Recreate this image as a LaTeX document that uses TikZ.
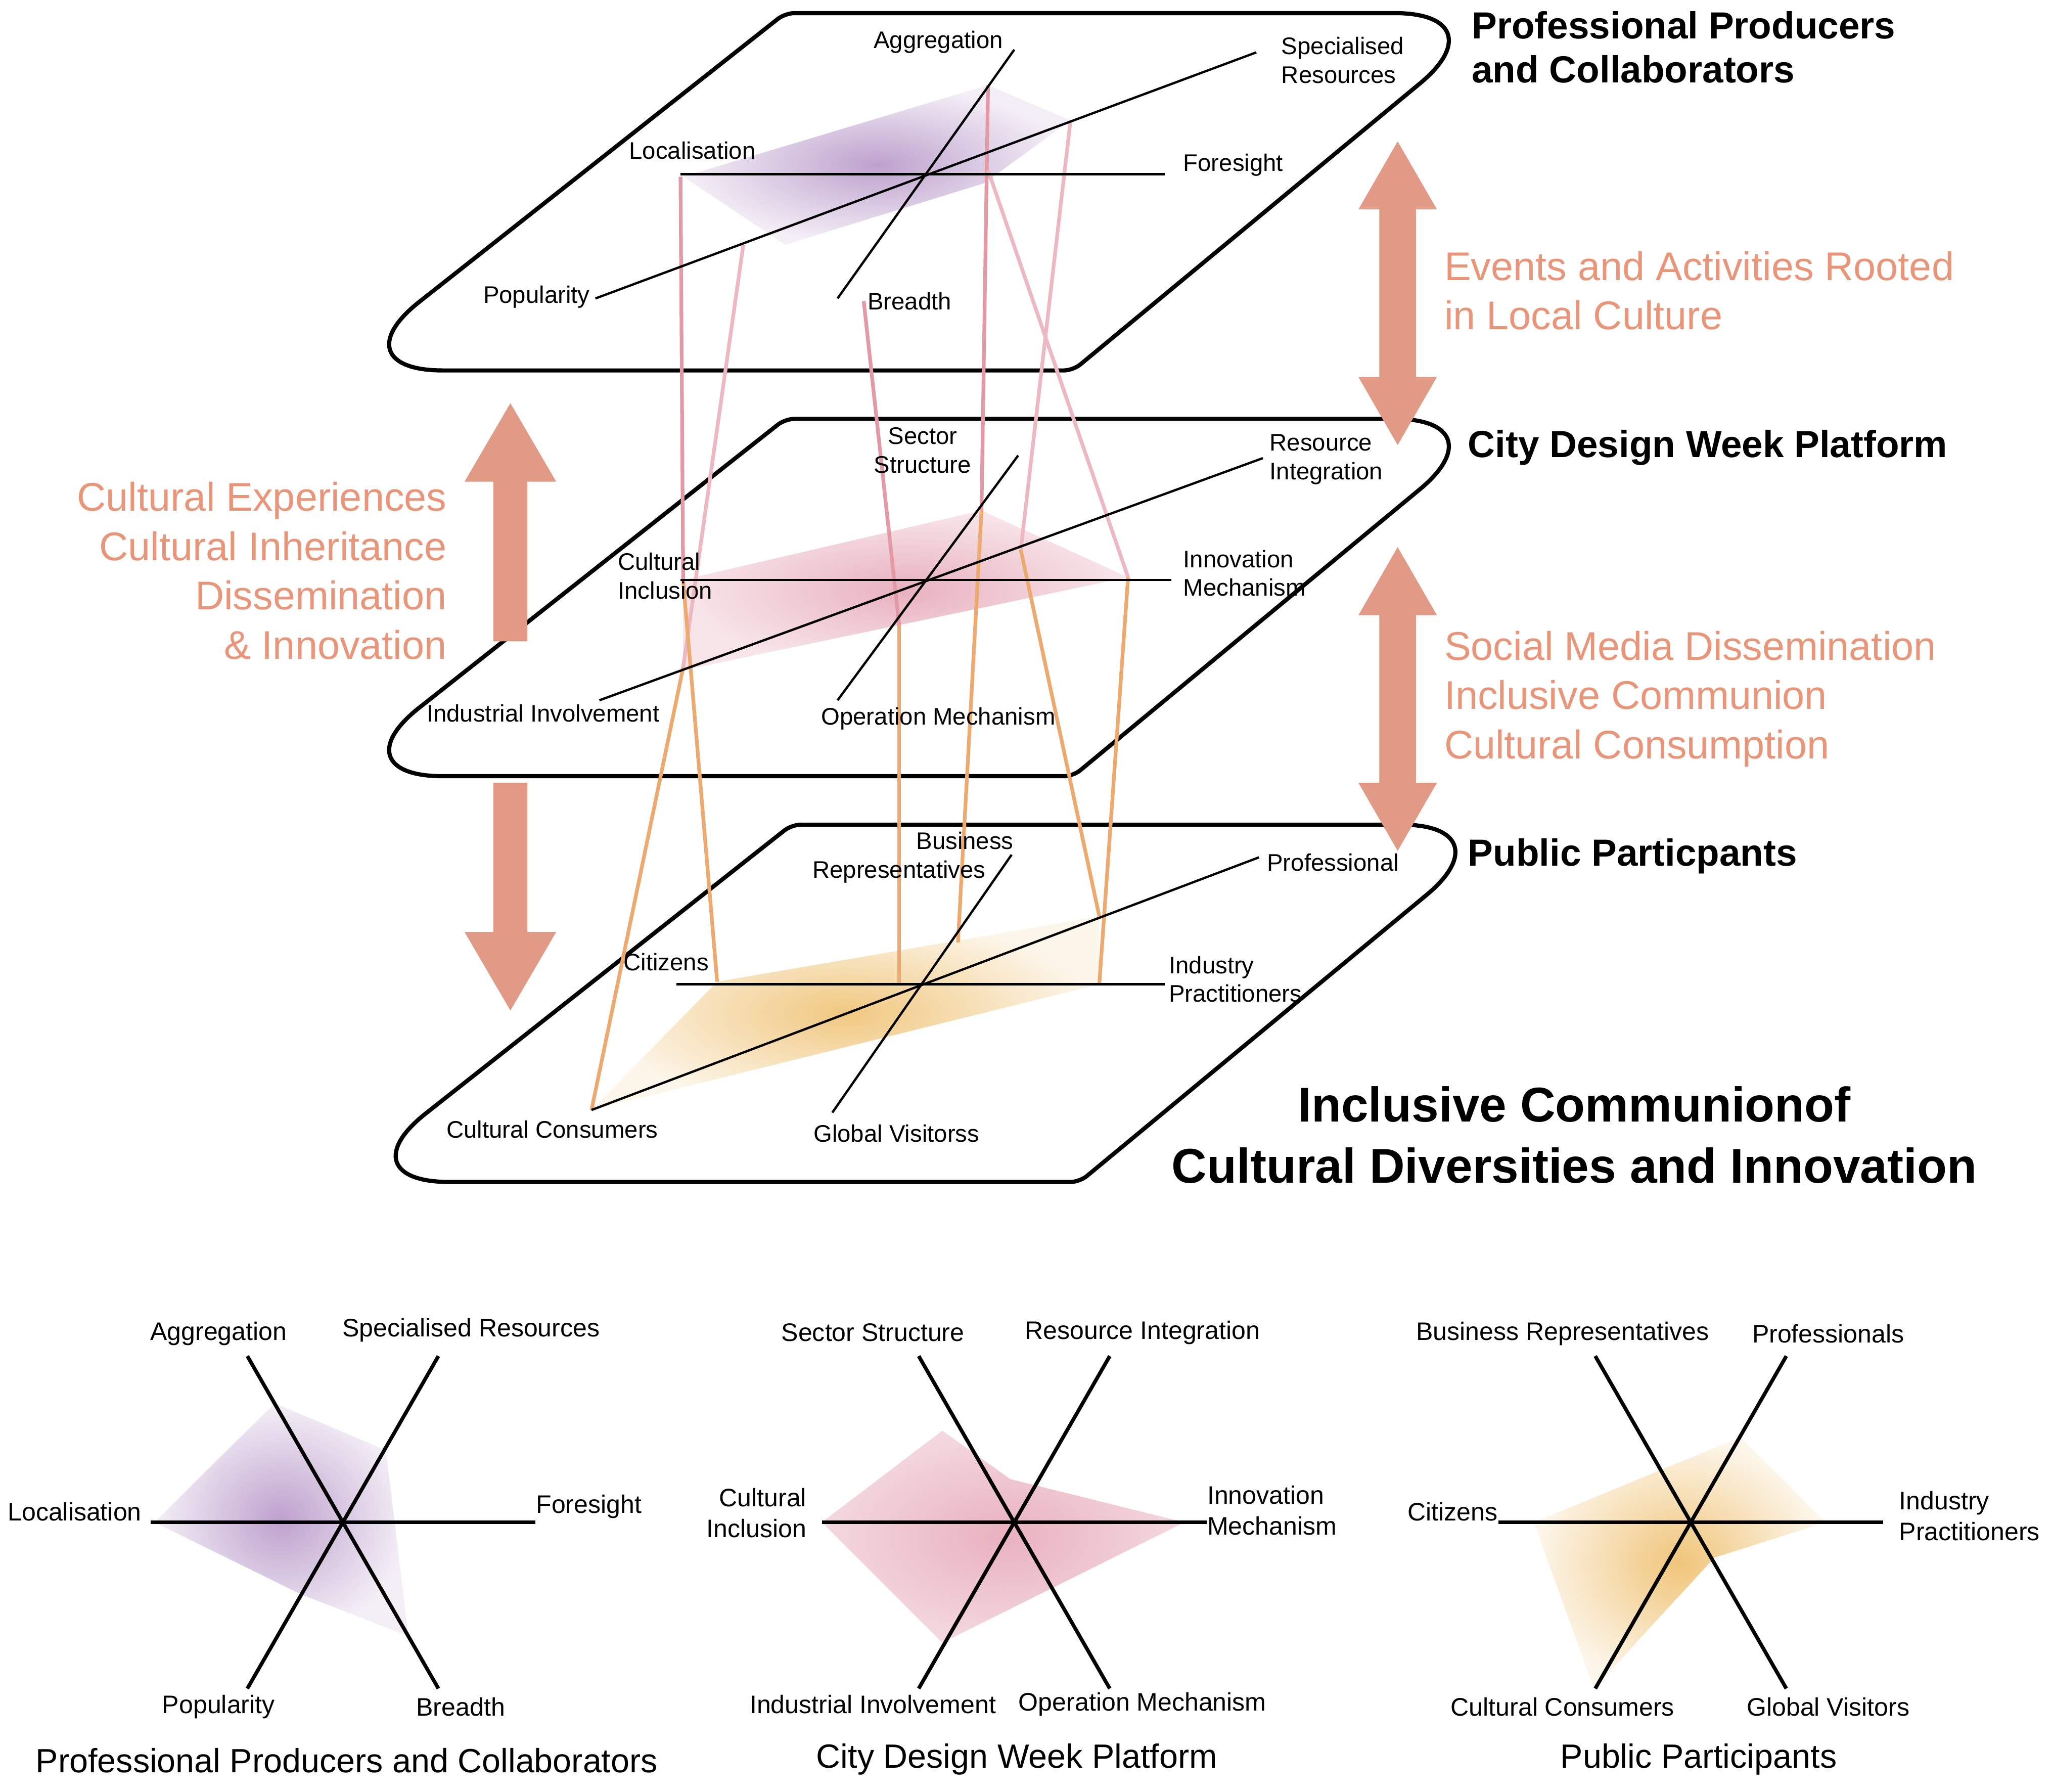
\documentclass[tikz,border=0pt]{standalone}
\usepackage{fontspec}
\setmainfont{Liberation Sans}
\begin{document}
\begin{tikzpicture}[x=0.01cm,y=-0.01cm,
 lbl/.style={font=\fontsize{5.2}{6.2}\selectfont,inner sep=1pt,align=left},
 ttl/.style={font=\bfseries\fontsize{8.2}{9.5}\selectfont,inner sep=0pt,align=left,anchor=west},
 otxt/.style={font=\fontsize{8.7}{10.7}\selectfont,text=ora,inner sep=0pt},
 btl/.style={font=\fontsize{7.3}{8}\selectfont,inner sep=0pt},
 bl/.style={font=\fontsize{5.5}{6.7}\selectfont,inner sep=1pt,align=left},
 ax/.style={line width=0.5pt},
 bax/.style={line width=0.8pt},
 plane/.style={line width=0.9pt},
 pk/.style={draw=pink1,line width=0.8pt},
 pkl/.style={draw=pink1!70,line width=0.8pt},
 og/.style={draw=org1,line width=0.8pt},
 barrow/.style={fill=arr,draw=none}]
\definecolor{ora}{HTML}{E8957A}
\definecolor{arr}{HTML}{E09A85}
\definecolor{pink1}{HTML}{E49AA6}
\definecolor{org1}{HTML}{EDAA70}
\definecolor{pur}{HTML}{B797C8}
\definecolor{pnk}{HTML}{E6A9B8}
\definecolor{yel}{HTML}{F0C57A}
\useasboundingbox (0,0) rectangle (1568,1369);
% planes
\foreach \dx/\dy in {0/0,0/310,5/620}{
 \draw[plane,shift={(\dx,\dy)}] (850,10) [rounded corners=2pt] -- (600,10) [rounded corners=24pt] -- (254,283) [rounded corners=2pt] -- (820,283) [rounded corners=24pt] -- (1150,10) [rounded corners=2pt] -- cycle;
}
% shaded polygons
\shade[inner color=pur!90,outer color=pur!15] (522,135) -- (755,65) -- (818,92) -- (752,140) -- (600,187) -- cycle;
\shade[inner color=pnk!90,outer color=pnk!30] (522,443) -- (750,390) -- (862,441) -- (522,512) -- cycle;
\shade[inner color=yel!95,outer color=yel!15] (548,750) -- (840,700) -- (840,752) -- (452,848) -- cycle;
% connecting lines
\coordinate (t1) at (520,135); \coordinate (t2) at (568,187); \coordinate (t3) at (660,230);
\coordinate (t4) at (755,65); \coordinate (t5) at (818,92); \coordinate (t6) at (755,130);
\coordinate (m1) at (522,443); \coordinate (m2) at (522,510); \coordinate (m3) at (687,477);
\coordinate (m4) at (750,390); \coordinate (m5) at (780,420); \coordinate (m6) at (862,441);
\coordinate (b1) at (548,750); \coordinate (b2) at (452,848); \coordinate (b3) at (687,752);
\coordinate (b4) at (732,720); \coordinate (b5) at (840,700); \coordinate (b6) at (840,752);
\draw[pk] (t1)--(m1); \draw[pkl] (t2)--(m2); \draw[pk] (t3)--(m3);
\draw[pk] (t4)--(m4); \draw[pkl] (t5)--(m5); \draw[pkl] (t6)--(m6);
\draw[og] (m1)--(b1); \draw[og] (m2)--(b2); \draw[og] (m3)--(b3);
\draw[og] (m4)--(b4); \draw[og] (m5)--(b5); \draw[og] (m6)--(b6);
% axes
\draw[ax] (520,133)--(890,133); \draw[ax] (455,228)--(960,40); \draw[ax] (640,228)--(775,38);
\draw[ax] (520,443)--(895,443); \draw[ax] (458,535)--(965,350); \draw[ax] (640,535)--(778,348);
\draw[ax] (517,752)--(890,752); \draw[ax] (452,848)--(962,655); \draw[ax] (636,850)--(773,653);
% labels
\node[lbl] (a1) at (717,32) {Aggregation};
\node[lbl,anchor=west] (a2) at (975,46) {Specialised\\Resources};
\node[lbl] (a3) at (529,115) {Localisation};
\node[lbl,anchor=west] (a4) at (900,126) {Foresight};
\node[lbl] (a5) at (410,227) {Popularity};
\node[lbl] (a6) at (695,230) {Breadth};
\node[lbl,align=center] (b1l) at (705,344) {Sector\\Structure};
\node[lbl,anchor=west] (b2l) at (966,351) {Resource\\Integration};
\node[lbl,anchor=west] (b3l) at (468,440) {Cultural\\Inclusion};
\node[lbl,anchor=west] (b4l) at (900,438) {Innovation\\Mechanism};
\node[lbl] (b5l) at (415,545) {Industrial Involvement};
\node[lbl] (b6l) at (717,549) {Operation Mechanism};
\node[lbl,align=center] (c1l) at (687,655) {\hspace*{5.5em}Business\\Representatives};
\node[lbl,anchor=west] (c2l) at (964,659) {Professional};
\node[lbl] (c3l) at (509,735) {Citizens};
\node[lbl,anchor=west] (c4l) at (889,748) {Industry\\Practitioners};
\node[lbl] (c5l) at (422,863) {Cultural Consumers};
\node[lbl] (c6l) at (685,866) {Global Visitorss};
% titles
\node[ttl] (T1) at (1124,36) {Professional Producers\\and Collaborators};
\node[ttl] (T2) at (1121,342) {City Design Week Platform};
\node[ttl] (T3) at (1121,654) {Public Particpants};
\node[font=\bfseries\fontsize{10.6}{13.3}\selectfont,align=center] (T4) at (1203,867) {Inclusive Communionof\\Cultural Diversities and Innovation};
% orange texts
\node[otxt,anchor=west,align=left] (O1) at (1103,222) {Events and Activities Rooted\\in Local Culture};
\node[otxt,anchor=west,align=left] (O2) at (1103,534) {Social Media Dissemination\\Inclusive Communion\\Cultural Consumption};
\node[otxt,anchor=east,align=right] (O3) at (342,436) {Cultural Experiences\\Cultural Inheritance\\Dissemination\\\& Innovation};
% big arrows
\fill[barrow] (1068,108) -- (1098,160) -- (1082,160) -- (1082,288) -- (1098,288) -- (1068,340) -- (1038,288) -- (1054,288) -- (1054,160) -- (1038,160) -- cycle;
\fill[barrow] (1068,418) -- (1098,470) -- (1082,470) -- (1082,598) -- (1098,598) -- (1068,650) -- (1038,598) -- (1054,598) -- (1054,470) -- (1038,470) -- cycle;
\fill[barrow] (390,308) -- (425,368) -- (403,368) -- (403,490) -- (377,490) -- (377,368) -- (355,368) -- cycle;
\fill[barrow] (390,772) -- (425,712) -- (403,712) -- (403,598) -- (377,598) -- (377,712) -- (355,712) -- cycle;
% bottom radars
\shade[inner color=pur!90,outer color=pur!15] (118,1163) -- (210,1072) -- (295,1108) -- (312,1250) -- (230,1218) -- cycle;
\shade[inner color=pnk!90,outer color=pnk!45] (628,1163) -- (720,1093) -- (772,1130) -- (905,1163) -- (720,1255) -- cycle;
\shade[inner color=yel!100,outer color=yel!15] (1172,1163) -- (1330,1098) -- (1395,1163) -- (1310,1190) -- (1218,1290) -- cycle;
\foreach \cx in {262,775,1292}{
 \draw[bax] (\cx-147,1163)--(\cx+147,1163);
 \draw[bax] (\cx-73,1036)--(\cx+73,1290);
 \draw[bax] (\cx+73,1036)--(\cx-73,1290);
}
\node[bl] (q1) at (167,1019) {Aggregation};
\node[bl] (q2) at (360,1016) {Specialised Resources};
\node[bl] (q3) at (57,1155) {Localisation};
\node[bl] (q4) at (450,1151) {Foresight};
\node[bl] (q5) at (167,1304) {Popularity};
\node[bl] (q6) at (352,1304) {Breadth};
\node[btl] (Q) at (265,1345) {Professional Producers and Collaborators};
\node[bl] (r1) at (667,1018) {Sector Structure};
\node[bl] (r2) at (873,1018) {Resource Integration};
\node[bl,align=right] (r3) at (578,1156) {Cultural\\Inclusion};
\node[bl] (r4) at (972,1154) {Innovation\\Mechanism};
\node[bl] (r5) at (667,1302) {Industrial Involvement};
\node[bl] (r6) at (873,1302) {Operation Mechanism};
\node[btl] (R) at (777,1344) {City Design Week Platform};
\node[bl] (s1) at (1194,1019) {Business Representatives};
\node[bl] (s2) at (1397,1019) {Professionals};
\node[bl] (s3) at (1110,1155) {Citizens};
\node[bl] (s4) at (1505,1158) {Industry\\Practitioners};
\node[bl] (s5) at (1194,1304) {Cultural Consumers};
\node[bl] (s6) at (1397,1304) {Global Visitors};
\node[btl] (S) at (1298,1344) {Public Participants};
\end{tikzpicture}
\end{document}
